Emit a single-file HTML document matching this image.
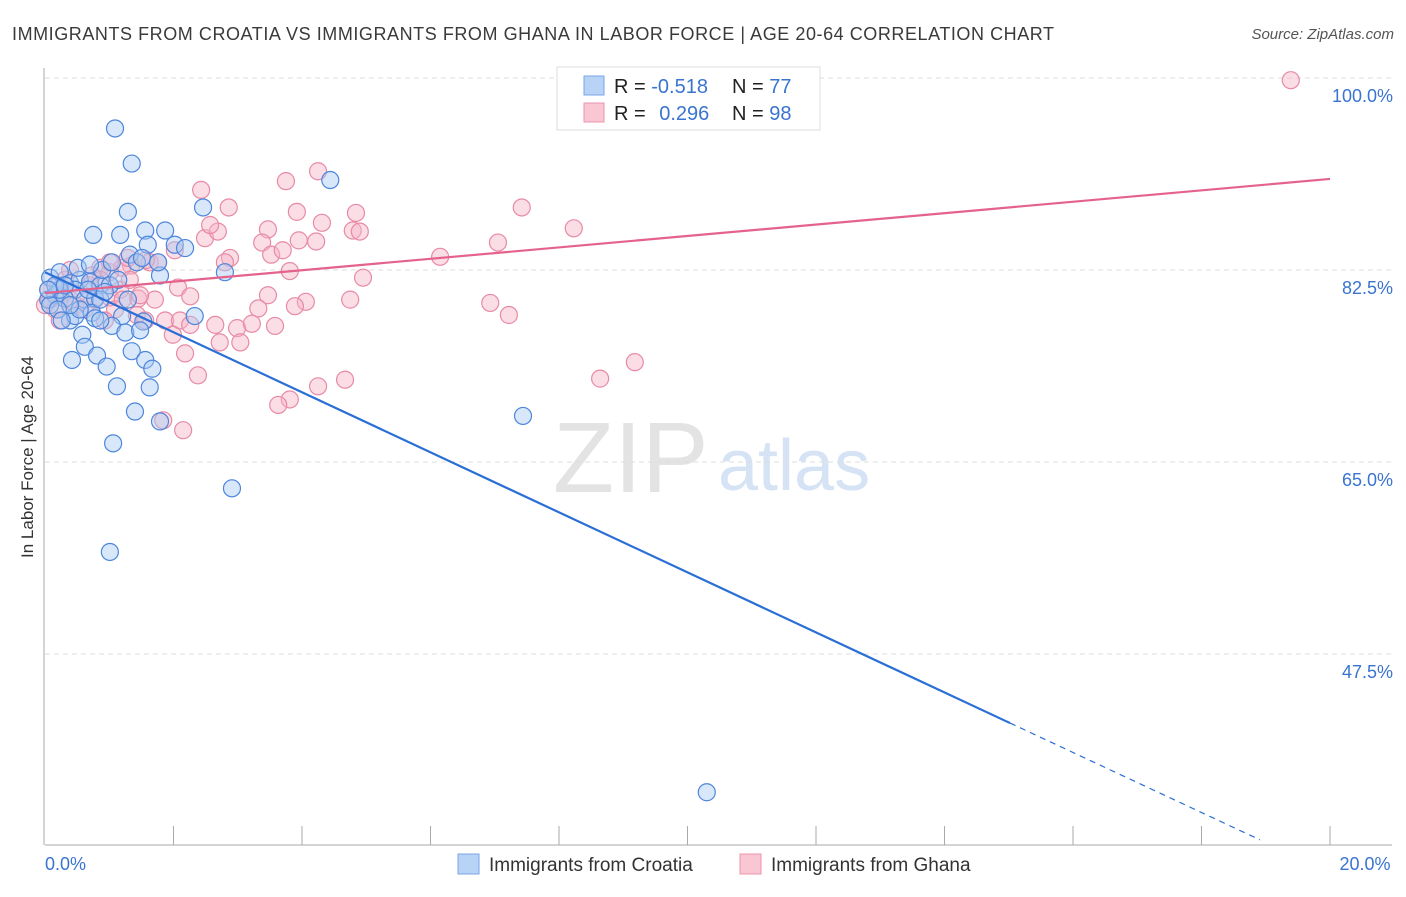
<!DOCTYPE html>
<html><head><meta charset="utf-8">
<style>
body{margin:0;background:#fff;font-family:"Liberation Sans",sans-serif;}
svg text{font-family:"Liberation Sans",sans-serif;}
</style></head>
<body>
<svg id="chart" width="1406" height="892" xmlns="http://www.w3.org/2000/svg">
<text x="12" y="40" font-size="18" fill="#3a3a3a" textLength="1042" lengthAdjust="spacing">IMMIGRANTS FROM CROATIA VS IMMIGRANTS FROM GHANA IN LABOR FORCE | AGE 20-64 CORRELATION CHART</text>
<text x="1394" y="39" font-size="15" fill="#555" font-style="italic" text-anchor="end">Source: ZipAtlas.com</text>
<text transform="translate(33,457) rotate(-90)" font-size="17" fill="#333" text-anchor="middle">In Labor Force | Age 20-64</text>
<g>
<text x="553" y="492" font-size="100" font-family="Liberation Serif,serif" fill="#e3e3e3">ZIP</text>
<text x="718" y="490" font-size="72" fill="#d5e3f5">atlas</text>
</g>
<g id="grid"></g>
<g id="axes"></g>
<g id="pts"></g>
<g id="trends"></g>
<g>
<rect x="557" y="67" width="263" height="63" fill="#fff" stroke="#ddd"/>
<rect x="584" y="76" width="20" height="19" fill="#b8d3f5" stroke="#7aa6e6"/>
<rect x="584" y="103" width="20" height="19" fill="#f9c6d4" stroke="#eb94ae"/>
<text x="614" y="93" font-size="20" fill="#222">R = <tspan fill="#3a74d0">-0.518</tspan></text>
<text x="732" y="93" font-size="20" fill="#222">N = <tspan fill="#3a74d0">77</tspan></text>
<text x="614" y="120" font-size="20" fill="#222">R = <tspan fill="#3a74d0" dx="8">0.296</tspan></text>
<text x="732" y="120" font-size="20" fill="#222">N = <tspan fill="#3a74d0">98</tspan></text>
</g>
<g>
<rect x="458" y="854" width="21" height="20" fill="#b8d3f5" stroke="#7aa6e6"/>
<text x="489" y="871" font-size="19" fill="#333">Immigrants from Croatia</text>
<rect x="740" y="854" width="21" height="20" fill="#f9c6d4" stroke="#eb94ae"/>
<text x="771" y="871" font-size="19" fill="#333">Immigrants from Ghana</text>
</g>
</svg>
<script>
const croatiaX=[1.09,1.35,4.44,1.29,2.46,0.75,1.17,1.56,1.87,1.60,2.02,1.32,1.43,2.80,1.79,0.08,0.23,0.39,0.54,0.70,0.86,0.47,0.62,0.78,1.01,0.16,0.05,0.31,2.33,1.20,0.39,0.47,0.73,0.58,1.04,1.25,1.53,0.62,0.81,0.42,1.35,0.96,1.56,1.67,1.12,1.63,1.40,1.79,1.06,2.91,1.01,7.44,10.30,0.23,0.08,0.86,1.48,0.16,0.31,0.67,0.93,1.14,0.54,0.78,0.39,0.20,1.29,0.89,0.51,0.05,0.26,0.70,1.04,1.51,1.76,2.18,0.86];
const croatiaY=[95.4,92.2,90.7,87.8,88.2,85.7,85.7,86.1,86.1,84.8,84.8,83.9,83.2,82.3,82.0,81.8,82.3,81.3,81.6,81.4,81.1,80.7,79.8,79.9,81.1,80.2,79.8,79.9,78.3,78.3,77.9,78.3,78.6,76.6,77.4,76.8,77.8,75.5,74.7,74.3,75.1,73.7,74.3,73.5,71.9,71.8,69.6,68.7,66.7,62.6,56.8,69.2,34.9,80.7,79.3,79.8,77.0,81.1,81.1,80.7,80.5,81.6,78.9,78.1,79.3,78.9,79.8,82.5,82.7,80.7,77.9,83.0,83.2,83.6,83.2,84.5,77.9];
const ghanaX=[19.39,4.25,3.75,2.43,2.86,3.92,4.31,4.84,7.42,8.23,3.47,4.79,4.90,2.49,2.69,3.38,3.95,4.22,7.05,2.57,3.52,3.70,6.15,2.88,2.80,2.02,1.63,1.76,3.81,4.95,1.34,1.20,0.86,1.01,2.07,3.47,2.26,1.45,1.71,1.01,4.75,4.06,3.89,3.32,6.93,7.22,1.43,1.87,2.10,1.56,2.65,2.26,2.99,3.58,3.22,2.72,3.04,1.99,2.18,2.38,4.67,4.25,8.64,9.18,3.81,3.63,1.84,2.15,0.23,0.39,0.54,0.70,0.16,0.31,0.08,0.47,0.86,1.17,1.32,0.62,0.78,1.09,1.48,0.93,0.23,0.00,1.29,1.21,1.57,0.05,0.20,0.73,1.01,0.39];
const ghanaY=[99.8,91.5,90.6,89.8,88.2,87.8,86.8,87.7,88.2,86.3,86.2,86.1,86.0,85.4,86.0,85.0,85.2,85.1,85.0,86.6,83.9,84.3,83.7,83.6,83.2,84.3,83.2,83.2,82.4,81.8,82.9,82.7,82.7,82.3,80.9,80.2,80.1,79.9,79.8,80.0,79.8,79.6,79.2,79.0,79.5,78.4,78.4,77.9,77.9,77.9,77.5,77.5,77.2,77.4,77.6,75.9,75.9,76.6,74.9,72.9,72.5,71.9,72.6,74.1,70.7,70.2,68.8,67.9,80.2,79.8,80.5,81.1,78.9,81.6,79.8,79.3,81.6,80.7,81.6,78.9,79.8,78.9,80.2,77.9,77.9,79.3,83.6,79.8,83.4,80.7,81.1,82.0,83.2,82.5];
const trendCroatia=[82.3,-2.736];
const trendGhana=[80.4,0.52];
const yTicks=[100,82.5,65,47.5];
const xTickLabels=["0.0%","20.0%"];

const NS="http://www.w3.org/2000/svg";
const X0=45,X1=1330,Y100=78,PXY=192/17.5;
const sx=v=>X0+(v/20)*(X1-X0);
const sy=v=>Y100+(100-v)*PXY;
function mk(tag,attrs,parent){const e=document.createElementNS(NS,tag);for(const k in attrs)e.setAttribute(k,attrs[k]);parent.appendChild(e);return e;}
const grid=document.getElementById('grid'),axes=document.getElementById('axes'),pts=document.getElementById('pts'),tr=document.getElementById('trends');
yTicks.forEach(t=>{
 const l=mk('line',{x1:45,x2:1392,y1:sy(t),y2:sy(t),stroke:'#ddd','stroke-dasharray':'5,4'},grid);
 
 
 const tx=mk('text',{x:1393,y:sy(t)+24,'font-size':18,fill:'#3a74d0','text-anchor':'end'},grid);
 tx.textContent=t.toFixed(1)+'%';
 
 
});
const xa=mk('line',{x1:45,x2:1392,y1:845,y2:845,stroke:'#aaa'},axes);


const ya=mk('line',{x1:44,x2:44,y1:68,y2:845,stroke:'#aaa'},axes);


for(let i=1;i<=10;i++){const t=mk('line',{x1:sx(i*2),x2:sx(i*2),y1:826,y2:845,stroke:'#aaa'},axes);
 
 }
[[0,'start',45],[20,'middle',1365]].forEach((d,i)=>{const t=mk('text',{x:d[2],y:870,'font-size':18,fill:'#3a74d0','text-anchor':d[1]},axes);t.textContent=xTickLabels[i];
 
 });
function dots(xs,ys,fill,stroke,name){xs.forEach((x,i)=>{const c=mk('circle',{cx:sx(x),cy:sy(ys[i]),r:8.5,fill:fill,'fill-opacity':0.45,stroke:stroke,'stroke-width':1.2},pts);
 
 });}
dots(ghanaX,ghanaY,'#f6b3c6','#e88aa6','ghana-point');
dots(croatiaX,croatiaY,'#a9c9f2','#4d86dc','croatia-point');
const bx1=15.02,bx2=18.91;
const b1=mk('line',{x1:sx(0),y1:sy(trendCroatia[0]),x2:sx(bx1),y2:sy(trendCroatia[0]+trendCroatia[1]*bx1),stroke:'#2a6fd6','stroke-width':2.2},tr);


const b2=mk('line',{x1:sx(bx1),y1:sy(trendCroatia[0]+trendCroatia[1]*bx1),x2:sx(bx2),y2:sy(trendCroatia[0]+trendCroatia[1]*bx2),stroke:'#2a6fd6','stroke-width':1.2,'stroke-dasharray':'6,5'},tr);


const p1=mk('line',{x1:sx(0),y1:sy(trendGhana[0]),x2:sx(20),y2:sy(trendGhana[0]+trendGhana[1]*20),stroke:'#e4628c','stroke-width':2.2},tr);


</script>
</body></html>
